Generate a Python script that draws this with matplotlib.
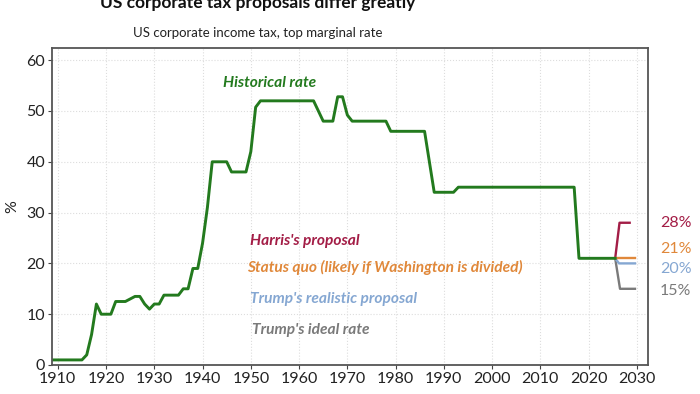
import matplotlib
matplotlib.use("Agg")
import matplotlib.pyplot as plt
import numpy as np

plt.rcParams['font.family'] = ['Lato', 'DejaVu Sans']

# Historical top marginal corporate rate (%)
years_hist = [1909, 1915, 1916, 1917, 1918, 1919, 1921, 1922, 1924, 1925, 1926, 1927,
              1928, 1929, 1930, 1931, 1932, 1935, 1936, 1937, 1938, 1939, 1940, 1941,
              1942, 1945, 1946, 1949, 1950, 1951, 1952, 1963, 1964, 1965, 1967, 1968,
              1969, 1970, 1971, 1978, 1979, 1986, 1987, 1988, 1992, 1993, 2017, 2018,
              2025.5]
rate_hist = [1, 1, 2, 6, 12, 10, 10, 12.5, 12.5, 13, 13.5, 13.5,
             12, 11, 12, 12, 13.75, 13.75, 15, 15, 19, 19, 24, 31,
             40, 40, 38, 38, 42, 50.75, 52, 52, 50, 48, 48, 52.8,
             52.8, 49.2, 48, 48, 46, 46, 40, 34, 34, 35, 35, 21,
             21]

# Proposals
harris_x = [2025.5, 2026.4, 2028.5]
harris_y = [21, 28, 28]
quo_x = [2025.5, 2029.6]
quo_y = [21, 21]
realistic_x = [2025.5, 2026.3, 2029.6]
realistic_y = [21, 20, 20]
ideal_x = [2025.5, 2026.5, 2029.6]
ideal_y = [21, 15, 15]

end_labels = ["28%", "21%", "20%", "15%"]
end_label_y = [27.9, 22.8, 18.8, 14.5]

c_green = '#237a1e'
c_harris = '#a31d46'
c_quo = '#e0883a'
c_real = '#85a7d2'
c_ideal = '#7a7a7a'

fig = plt.figure(figsize=(7, 3.94), dpi=100)
ax = fig.add_axes([52/700, 1-365/394, (648-52)/700, (365-48)/394])

ax.plot(ideal_x, ideal_y, color=c_ideal, lw=1.7, solid_joinstyle='round')
ax.plot(realistic_x, realistic_y, color=c_real, lw=1.7, solid_joinstyle='round')
ax.plot(harris_x, harris_y, color=c_harris, lw=1.7, solid_joinstyle='round')
ax.plot(quo_x, quo_y, color=c_quo, lw=1.7, solid_joinstyle='round')
ax.plot(years_hist, rate_hist, color=c_green, lw=2.1, solid_joinstyle='round')

ax.set_xlim(1908.8, 2032.3)
ax.set_ylim(0, 62.4)
ax.set_xticks(np.arange(1910, 2031, 10))
ax.set_yticks(np.arange(0, 61, 10))
ax.tick_params(labelsize=11.5, length=3, color='#444444', labelcolor='#222222', pad=2)
ax.grid(True, color='#dddddd', lw=0.8, ls=':')
for s in ax.spines.values():
    s.set_color('#555555')
    s.set_linewidth(1.3)
ax.set_ylabel('%', fontsize=11.5, color='#222222', labelpad=5)

tkw = dict(fontsize=11.2, fontweight='bold', fontstyle='italic')
ax.text(1944.2, 55.5, 'Historical rate', color=c_green, va='center', **tkw)
ax.text(1949.8, 24.4, "Harris's proposal", color=c_harris, va='center', **tkw)
ax.text(1949.2, 19.1, 'Status quo (likely if Washington is divided)', color=c_quo, va='center', **tkw)
ax.text(1949.8, 13.0, "Trump's realistic proposal", color=c_real, va='center', **tkw)
ax.text(1950.3, 6.9, "Trump's ideal rate", color=c_ideal, va='center', **tkw)

for lab, yv, col in zip(end_labels, end_label_y, [c_harris, c_quo, c_real, c_ideal]):
    ax.text(2034.8, yv, lab, color=col, fontsize=11.5, va='center', ha='left', clip_on=False)

fig.text(258/700, 1-8/394, 'US corporate tax proposals differ greatly', ha='center',
         va='baseline', fontsize=12.5, fontweight='bold', color='#111111')
fig.text(258/700, 1-37/394, 'US corporate income tax, top marginal rate', ha='center',
         va='baseline', fontsize=9.5, color='#222222')

fig.savefig('out.png', dpi=100)
